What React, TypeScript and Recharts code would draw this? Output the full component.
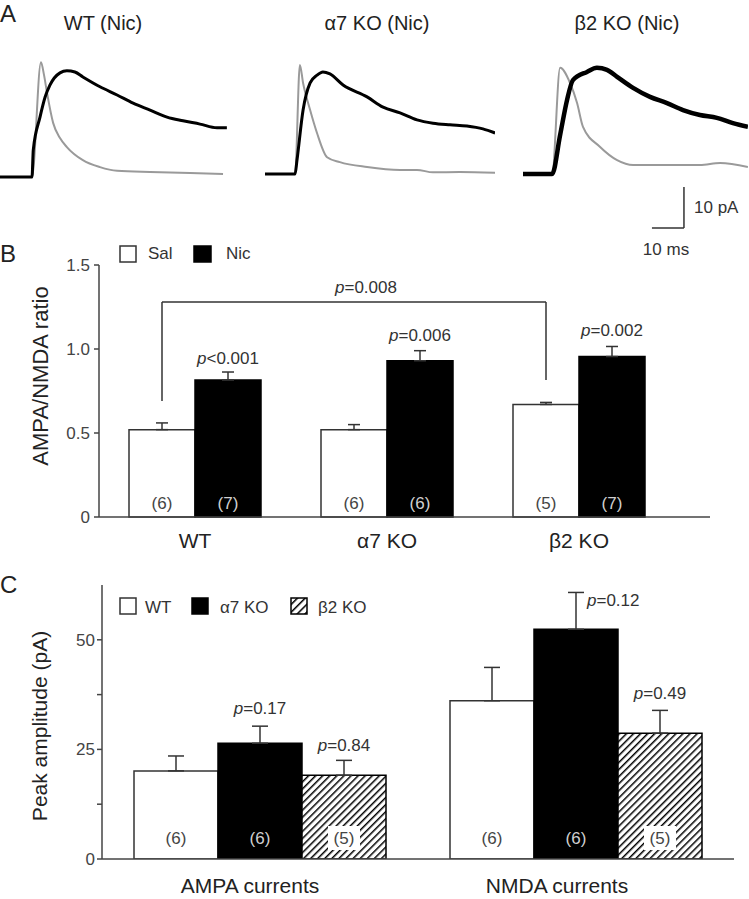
import React from 'react';
import { BarChart, Bar, XAxis, YAxis, ErrorBar, LabelList, ReferenceLine, LineChart, Line } from 'recharts';

const FONT = '"Liberation Sans", Arial, Helvetica, sans-serif';

// ---------- Panel A: example traces (time in ms, current in pA above baseline) ----------
const traceTitles = ['WT (Nic)', 'α7 KO (Nic)', 'β2 KO (Nic)'];
const wtGray: [number, number][] = [[0, 0], [10, 0], [12.8, 28.0], [13.75, 24.9], [14.7, 20.5], [16.6, 13.2], [18.75, 9.5], [20.9, 7.3], [25.9, 4.1], [31.25, 2.4], [36.6, 1.5], [46.9, 1.2], [59.4, 1.0], [69.7, 0.7]];
const wtBlack: [number, number][] = [[0, 0], [10, 0], [10.4, 6.6], [12.5, 14.6], [14.1, 19.5], [15.6, 22.4], [18.75, 25.4], [20.9, 25.9], [23.4, 25.6], [25.9, 24.4], [31.25, 22.0], [36.6, 20.0], [41.6, 18.0], [46.9, 16.3], [52.2, 14.6], [57.2, 13.7], [62.5, 12.9], [67.8, 12.0], [70.9, 12.0]];
const a7Gray: [number, number][] = [[0, 0], [9.4, 0], [10.9, 26.6], [11.9, 22.2], [14.1, 15.6], [16.25, 10.0], [19.4, 4.1], [23.4, 2.9], [31.9, 1.7], [42.2, 1.0], [47.5, 1.0], [52.5, 0.4], [60.9, 0.5], [71.9, 0.3]];
const a7Black: [number, number][] = [[0, 0], [9.4, 0], [10.0, 3.4], [11.9, 15.6], [14.1, 22.2], [16.25, 24.1], [18.1, 24.9], [20.3, 24.4], [24.4, 21.7], [31.9, 18.8], [36.9, 16.3], [42.2, 14.9], [47.5, 13.2], [52.5, 12.4], [57.8, 12.0], [63.1, 11.7], [68.1, 11.0], [71.9, 10.0]];
const b2Gray: [number, number][] = [[0, 0], [9.1, 0], [11.6, 25.9], [14.7, 22.2], [16.9, 17.3], [18.75, 11.5], [24.1, 6.6], [29.4, 3.4], [34.4, 2.2], [45, 2.2], [55.3, 2.2], [61.6, 2.7], [70.3, 1.7]];
const b2Black: [number, number][] = [[0, 0], [9.1, 0], [11.6, 9.5], [13.75, 18.0], [15.6, 22.9], [20, 24.9], [23.1, 25.9], [26.25, 25.4], [29.4, 23.7], [34.4, 21.0], [39.7, 18.8], [45, 17.3], [50, 15.6], [55.3, 14.4], [60.6, 13.7], [65.6, 12.4], [70.3, 11.5]];
// scale bar: 10 ms x 10 pA, corner at (t, i)
const scaleBar = { t: 50.3, i: -13.2, ms: 10, pA: 10 };

// ---------- Panel B: AMPA/NMDA ratio ----------
const groupsB = ['WT', 'α7 KO', 'β2 KO'];
const salB = [0.52, 0.52, 0.67];
const salErrB = [0.04, 0.03, 0.012];
const nicB = [0.815, 0.93, 0.955];
const nicErrB = [0.048, 0.06, 0.06];
const salNB = ['(6)', '(6)', '(5)'];
const nicNB = ['(7)', '(6)', '(7)'];
const nicPB = ['<0.001', '=0.006', '=0.002'];
const ticksB = [0, 0.5, 1, 1.5];
// bracket between WT Sal and β2 KO Sal
const bracketB = { from: 'WT', to: 'β2 KO', top: 1.28, leftEnd: 0.69, rightEnd: 0.815, label: '=0.008' };

// ---------- Panel C: peak amplitudes ----------
const groupsC = ['AMPA currents', 'NMDA currents'];
const wtC = [20.1, 36.1];
const wtErrC = [3.4, 7.6];
const a7C = [26.4, 52.4];
const a7ErrC = [3.9, 8.4];
const b2C = [19.1, 28.7];
const b2ErrC = [3.4, 5.2];
const wtNC = ['(6)', '(6)'];
const a7NC = ['(6)', '(6)'];
const b2NC = ['(5)', '(5)'];
const a7PC = ['=0.17', '=0.12'];
const b2PC = ['=0.84', '=0.49'];
const ticksC = [0, 12.5, 25, 37.5, 50];
const labeledTicksC = [0, 25, 50];

const toPts = (arr: [number, number][]) => arr.map(([t, i]) => ({ t, i }));

const dataB = groupsB.map((g, k) => ({
  g,
  sal: salB[k],
  salErr: [0, salErrB[k]],
  nic: nicB[k],
  nicErr: [0, nicErrB[k]],
}));

const dataC = groupsC.map((g, k) => ({
  g,
  wt: wtC[k],
  wtErr: [0, wtErrC[k]],
  a7: a7C[k],
  a7Err: [0, a7ErrC[k]],
  b2: b2C[k],
  b2Err: [0, b2ErrC[k]],
}));

const box = (props: any) => {
  const vb = props.viewBox || {};
  const x = Number(vb.x ?? props.x);
  const y = Number(vb.y ?? props.y);
  const w = Number(vb.width ?? props.width);
  const h = Number(vb.height ?? props.height);
  return { x, y, w, h };
};

const makeN = (labels: string[], color: string, lift: number, boxed = false) => (props: any) => {
  const { x, y, w, h } = box(props);
  const cx = x + w / 2;
  const by = y + h - lift;
  return (
    <g>
      {boxed && <rect x={cx - 16} y={by - 18} width={32} height={24} fill="#fff" />}
      <text x={cx} y={by} textAnchor="middle" fontSize={17} fill={color} fontFamily={FONT}>
        {labels[props.index]}
      </text>
    </g>
  );
};

const makeP = (labels: string[], errs: number[], lifts: number[], right: boolean[] = []) => (props: any) => {
  const { x, y, w, h } = box(props);
  const idx = props.index;
  const val = Number(props.value);
  const ppu = val ? h / val : 0;
  const errTop = y - errs[idx] * ppu;
  const cx = x + w / 2;
  if (right[idx]) {
    return (
      <text x={cx + 11} y={errTop + 14} textAnchor="start" fontSize={17} fill="#333" fontFamily={FONT}>
        <tspan fontStyle="italic">p</tspan>
        <tspan>{labels[idx]}</tspan>
      </text>
    );
  }
  return (
    <text x={cx} y={errTop - lifts[idx]} textAnchor="middle" fontSize={17} fill="#333" fontFamily={FONT}>
      <tspan fontStyle="italic">p</tspan>
      <tspan>{labels[idx]}</tspan>
    </text>
  );
};

const CatTick = (props: any) => {
  const { x, y, payload, index, dy, dxs } = props;
  return (
    <text x={Number(x) + (dxs ? dxs[index] : 0)} y={Number(y) + dy} textAnchor="middle" fontSize={21} fill="#222" fontFamily={FONT}>
      {payload.value}
    </text>
  );
};

// bracket legs sit on the Sal bars: shift left from group centre by half a bar
const SAL_SHIFT = -33;
const bracketLine = (withLabel: boolean) => (p: any) => {
  const x1 = Number(p.x1) + SAL_SHIFT;
  const x2 = Number(p.x2) + SAL_SHIFT;
  return (
    <g>
      <line x1={x1} y1={p.y1} x2={x2} y2={p.y2} stroke="#333" strokeWidth={1.5} />
      {withLabel && (
        <text x={(x1 + x2) / 2 + 12} y={Number(p.y1) - 9} textAnchor="middle" fontSize={17} fill="#333" fontFamily={FONT}>
          <tspan fontStyle="italic">p</tspan>
          <tspan>{bracketB.label}</tspan>
        </text>
      )}
    </g>
  );
};

const PX_MS = 3.2;
const PX_PA = 4.1;

const Trace = ({ left, baseline, gray, black, tMax, iMin, grayW, blackW, bar }: any) => {
  const iMax = 30;
  const width = tMax * PX_MS;
  const height = (iMax - iMin) * PX_PA;
  const top = baseline - iMax * PX_PA;
  return (
    <div style={{ position: 'absolute', left, top }}>
      <LineChart width={width} height={height} margin={{ top: 0, right: 0, bottom: 0, left: 0 }}>
        <XAxis type="number" dataKey="t" domain={[0, tMax]} hide allowDataOverflow />
        <YAxis type="number" domain={[iMin, iMax]} hide allowDataOverflow width={0} />
        <Line data={toPts(gray)} dataKey="i" type="monotone" stroke="#9a9a9a" strokeWidth={grayW} dot={false} isAnimationActive={false} />
        <Line data={toPts(black)} dataKey="i" type="monotone" stroke="#000" strokeWidth={blackW} dot={false} isAnimationActive={false} />
        {bar && (
          <ReferenceLine
            segment={[{ x: scaleBar.t, y: scaleBar.i + scaleBar.pA }, { x: scaleBar.t, y: scaleBar.i }]}
            stroke="#333"
            strokeWidth={1.5}
            ifOverflow="visible"
          />
        )}
        {bar && (
          <ReferenceLine
            segment={[{ x: scaleBar.t - scaleBar.ms, y: scaleBar.i }, { x: scaleBar.t, y: scaleBar.i }]}
            stroke="#333"
            strokeWidth={1.5}
            ifOverflow="visible"
          />
        )}
      </LineChart>
    </div>
  );
};

const Hatch = ({ id, size = 5, sw = 3 }: { id: string; size?: number; sw?: number }) => (
  <pattern id={id} patternUnits="userSpaceOnUse" width={size} height={size} patternTransform="rotate(45)">
    <rect width={size} height={size} fill="#fff" />
    <line x1={0} y1={0} x2={0} y2={size} stroke="#000" strokeWidth={sw} />
  </pattern>
);

export default function App() {
  return (
    <div style={{ position: 'absolute', left: 0, top: 0, width: 749, height: 899, background: '#fff', overflow: 'hidden', fontFamily: FONT }}>
      {/* Panel A */}
      <Trace left={0} baseline={177} gray={wtGray} black={wtBlack} tMax={72} iMin={-4} grayW={2} blackW={3} />
      <Trace left={265} baseline={174} gray={a7Gray} black={a7Black} tMax={72} iMin={-4} grayW={2} blackW={3} />
      <Trace left={523} baseline={174} gray={b2Gray} black={b2Black} tMax={70.3} iMin={-14} grayW={2} blackW={4.5} bar />

      {/* Panel B */}
      <div style={{ position: 'absolute', left: 0, top: 230 }}>
        <BarChart width={749} height={330} data={dataB} margin={{ top: 35, right: 39, left: 39, bottom: 0 }} barCategoryGap={30} barGap={0}>
          <XAxis
            dataKey="g"
            height={43}
            tickLine={false}
            tickSize={0}
            tickMargin={0}
            interval={0}
            padding={{ left: 0, right: 35 }}
            stroke="#444"
            strokeWidth={1.5}
            tick={<CatTick dy={31} />}
          />
          <YAxis
            domain={[0, 1.5]}
            ticks={ticksB}
            interval={0}
            width={60}
            tickSize={5}
            tickMargin={4}
            stroke="#444"
            strokeWidth={1.5}
            tickFormatter={(v: number) => (v === 0 ? '0' : v.toFixed(1))}
            tick={{ fill: '#444', fontSize: 17, fontFamily: FONT }}
          />
          <Bar dataKey="sal" fill="#fff" stroke="#333" strokeWidth={1.5} isAnimationActive={false}>
            <ErrorBar dataKey="salErr" width={6} stroke="#333" strokeWidth={1.5} direction="y" />
            <LabelList dataKey="sal" content={makeN(salNB, '#444', 8)} />
          </Bar>
          <Bar dataKey="nic" fill="#000" stroke="#000" strokeWidth={1.5} isAnimationActive={false}>
            <ErrorBar dataKey="nicErr" width={6} stroke="#333" strokeWidth={1.5} direction="y" />
            <LabelList dataKey="nic" content={makeN(nicNB, '#d0d0d0', 8)} />
            <LabelList dataKey="nic" content={makeP(nicPB, nicErrB, [8, 10, 10])} />
          </Bar>
          <ReferenceLine
            segment={[{ x: bracketB.from, y: bracketB.top }, { x: bracketB.to, y: bracketB.top }]}
            shape={bracketLine(true)}
          />
          <ReferenceLine segment={[{ x: bracketB.from, y: bracketB.leftEnd }, { x: bracketB.from, y: bracketB.top }]} shape={bracketLine(false)} />
          <ReferenceLine segment={[{ x: bracketB.to, y: bracketB.rightEnd }, { x: bracketB.to, y: bracketB.top }]} shape={bracketLine(false)} />
        </BarChart>
      </div>

      {/* Panel C */}
      <div style={{ position: 'absolute', left: 0, top: 560 }}>
        <BarChart width={749} height={339} data={dataC} margin={{ top: 25, right: 15, left: 42, bottom: 0 }} barCategoryGap={32} barGap={0}>
          <defs>
            <Hatch id="hatchC" />
          </defs>
          <XAxis
            dataKey="g"
            height={40}
            tickLine={false}
            tickSize={0}
            tickMargin={0}
            interval={0}
            stroke="#444"
            strokeWidth={1.5}
            tick={<CatTick dy={34} dxs={[-10, -19]} />}
          />
          <YAxis
            domain={[0, 62.5]}
            ticks={ticksC}
            interval={0}
            width={60}
            tickSize={5}
            tickMargin={2}
            stroke="#444"
            strokeWidth={1.5}
            allowDataOverflow
            tickFormatter={(v: number) => (labeledTicksC.includes(v) ? String(v) : '')}
            tick={{ fill: '#444', fontSize: 17, fontFamily: FONT }}
          />
          <Bar dataKey="wt" fill="#fff" stroke="#333" strokeWidth={1.5} isAnimationActive={false}>
            <ErrorBar dataKey="wtErr" width={8} stroke="#333" strokeWidth={1.5} direction="y" />
            <LabelList dataKey="wt" content={makeN(wtNC, '#444', 15)} />
          </Bar>
          <Bar dataKey="a7" fill="#000" stroke="#000" strokeWidth={1.5} isAnimationActive={false}>
            <ErrorBar dataKey="a7Err" width={8} stroke="#333" strokeWidth={1.5} direction="y" />
            <LabelList dataKey="a7" content={makeN(a7NC, '#d0d0d0', 15)} />
            <LabelList dataKey="a7" content={makeP(a7PC, a7ErrC, [12, 12], [false, true])} />
          </Bar>
          <Bar dataKey="b2" fill="url(#hatchC)" stroke="#000" strokeWidth={1.5} isAnimationActive={false}>
            <ErrorBar dataKey="b2Err" width={8} stroke="#333" strokeWidth={1.5} direction="y" />
            <LabelList dataKey="b2" content={makeN(b2NC, '#444', 15, true)} />
            <LabelList dataKey="b2" content={makeP(b2PC, b2ErrC, [9, 11])} />
          </Bar>
        </BarChart>
      </div>

      {/* Text and legends */}
      <svg width={749} height={899} style={{ position: 'absolute', left: 0, top: 0, pointerEvents: 'none' }} fontFamily={FONT}>
        <defs>
          <Hatch id="hatchLeg" size={5.5} sw={3} />
        </defs>
        <text x={0} y={22} fontSize={24} fill="#222">A</text>
        <text x={103} y={30} fontSize={20} fill="#222" textAnchor="middle">{traceTitles[0]}</text>
        <text x={377} y={30} fontSize={20} fill="#222" textAnchor="middle">{traceTitles[1]}</text>
        <text x={627} y={30} fontSize={20} fill="#222" textAnchor="middle">{traceTitles[2]}</text>
        <text x={694} y={213} fontSize={17} fill="#333">10 pA</text>
        <text x={666} y={255} fontSize={17} fill="#333" textAnchor="middle">10 ms</text>

        <text x={0} y={262} fontSize={24} fill="#222">B</text>
        <rect x={120} y={246} width={16} height={16} fill="#fff" stroke="#333" strokeWidth={1.5} />
        <text x={148} y={259} fontSize={17} fill="#333">Sal</text>
        <rect x={194} y={246} width={17} height={16} fill="#000" stroke="#000" strokeWidth={1.5} />
        <text x={226} y={259} fontSize={17} fill="#333">Nic</text>
        <text transform="translate(48,376) rotate(-90)" textAnchor="middle" fontSize={22} fill="#222">AMPA/NMDA ratio</text>

        <text x={0} y={593} fontSize={24} fill="#222">C</text>
        <rect x={120} y={598} width={16} height={16} fill="#fff" stroke="#333" strokeWidth={1.5} />
        <text x={145} y={613} fontSize={17} fill="#333">WT</text>
        <rect x={192} y={598} width={16} height={16} fill="#000" stroke="#000" strokeWidth={1.5} />
        <text x={220} y={613} fontSize={17} fill="#333">α7 KO</text>
        <rect x={291} y={598} width={16} height={16} fill="url(#hatchLeg)" stroke="#000" strokeWidth={1.5} />
        <text x={318} y={613} fontSize={17} fill="#333">β2 KO</text>
        <text transform="translate(47,726) rotate(-90)" textAnchor="middle" fontSize={21} fill="#222">Peak amplitude (pA)</text>
      </svg>
    </div>
  );
}
